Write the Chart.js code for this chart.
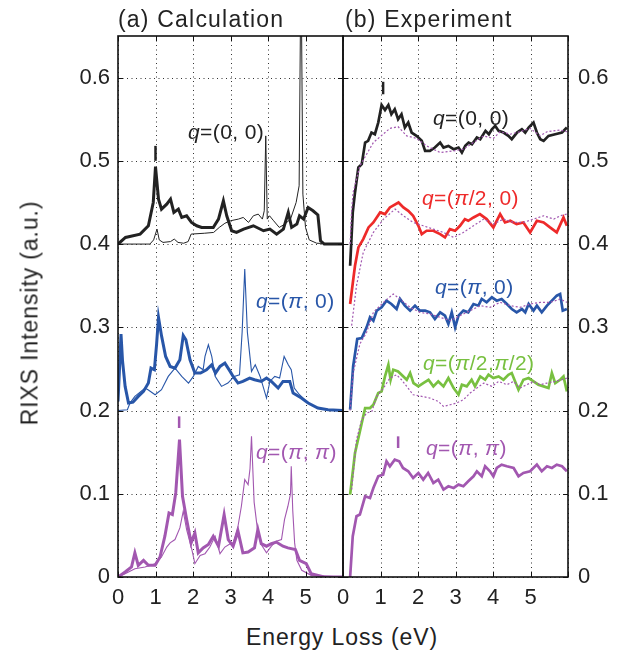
<!DOCTYPE html>
<html>
<head>
<meta charset="utf-8">
<script src="https://cdn.jsdelivr.net/npm/chart.js@4.4.1/dist/chart.umd.min.js"></script>
<style>
  body { margin: 0; background: #fff; font-family: "Liberation Sans", Arial, sans-serif; color: #222; }
  #wrap { position: relative; width: 625px; height: 652px; overflow: hidden; }
  .cv { position: absolute; top: 0; }
  .txt { position: absolute; white-space: nowrap; line-height: 1; }
  .tit { font-size: 23px; letter-spacing: 1.2px; }
  .lbl { font-size: 21px; letter-spacing: 0.4px; }
</style>
</head>
<body>
<div id="wrap">
  <div class="cv" style="left:0;width:344px;height:610px"><canvas id="calc"></canvas></div>
  <div class="cv" style="left:330px;width:295px;height:610px"><canvas id="expt"></canvas></div>

  <div class="txt tit" style="left:118px;top:8px">(a) Calculation</div>
  <div class="txt tit" style="left:345px;top:8px">(b) Experiment</div>
  <div class="txt tit" style="left:30px;top:313px;letter-spacing:0.9px;transform:translate(-50%,-50%) rotate(-90deg)">RIXS Intensity (a.u.)</div>
  <div class="txt tit" style="left:342px;top:637px;letter-spacing:0.9px;transform:translate(-50%,-50%)">Energy Loss (eV)</div>

  <div class="txt lbl" style="left:188px;top:121px;color:#222"><i>q</i>=(0, 0)</div>
  <div class="txt lbl" style="left:256px;top:290px;color:#2856a8"><i>q</i>=(<i>π</i>, 0)</div>
  <div class="txt lbl" style="left:256px;top:441px;color:#a257b0"><i>q</i>=(<i>π</i>, <i>π</i>)</div>
  <div class="txt lbl" style="left:433px;top:107px;color:#222"><i>q</i>=(0, 0)</div>
  <div class="txt lbl" style="left:422px;top:187px;color:#ee2a2a"><i>q</i>=(<i>π</i>/2, 0)</div>
  <div class="txt lbl" style="left:435px;top:276px;color:#2856a8"><i>q</i>=(<i>π</i>, 0)</div>
  <div class="txt lbl" style="left:423px;top:352px;color:#78c040"><i>q</i>=(<i>π</i>/2,<i>π</i>/2)</div>
  <div class="txt lbl" style="left:426px;top:437px;color:#a257b0"><i>q</i>=(<i>π</i>, <i>π</i>)</div>
</div>

<script>
// eixos
const xTickValues = [0, 1, 2, 3, 4, 5, 6];
const yTickValues = [0, 0.1, 0.2, 0.3, 0.4, 0.5, 0.6];

// (a) calculo: pares [energia, intensidade]
const calcQ00Thick = [[0,0.4],[0.2,0.408],[0.59,0.412],[0.81,0.422],[0.94,0.45],[1.0,0.493],[1.08,0.454],[1.16,0.442],[1.3,0.448],[1.4,0.454],[1.49,0.438],[1.61,0.442],[1.7,0.432],[1.83,0.434],[1.96,0.426],[2.1,0.422],[2.23,0.42],[2.36,0.42],[2.54,0.42],[2.68,0.43],[2.81,0.452],[2.9,0.434],[3.03,0.416],[3.16,0.414],[3.35,0.418],[3.61,0.422],[3.88,0.416],[4.05,0.418],[4.23,0.412],[4.41,0.418],[4.54,0.438],[4.63,0.42],[4.77,0.424],[4.84,0.434],[4.95,0.43],[5.07,0.444],[5.2,0.44],[5.33,0.435],[5.4,0.404],[5.5,0.4],[6,0.4]];
const calcQ00Thin = [[0,0.4],[0.85,0.4],[0.95,0.405],[1.04,0.418],[1.1,0.405],[1.2,0.402],[1.4,0.403],[1.5,0.406],[1.6,0.402],[1.75,0.401],[1.87,0.403],[1.95,0.412],[2.3,0.413],[2.55,0.414],[2.7,0.42],[2.85,0.425],[3.0,0.428],[3.21,0.43],[3.34,0.432],[3.48,0.426],[3.61,0.434],[3.74,0.436],[3.85,0.43],[3.9,0.44],[3.94,0.53],[3.98,0.43],[4.04,0.434],[4.15,0.428],[4.3,0.42],[4.45,0.424],[4.6,0.43],[4.75,0.45],[4.83,0.47],[4.88,0.75],[4.93,0.46],[5.0,0.42],[5.1,0.405],[5.3,0.401],[6,0.4]];
const calcQp0Thick = [[0,0.211],[0.04,0.25],[0.08,0.292],[0.12,0.26],[0.19,0.229],[0.28,0.209],[0.4,0.21],[0.54,0.217],[0.68,0.223],[0.81,0.233],[0.88,0.251],[0.97,0.249],[1.03,0.28],[1.08,0.312],[1.16,0.29],[1.27,0.265],[1.39,0.253],[1.52,0.251],[1.65,0.261],[1.74,0.29],[1.81,0.285],[1.92,0.261],[2.05,0.245],[2.2,0.245],[2.36,0.249],[2.5,0.255],[2.6,0.245],[2.72,0.253],[2.85,0.257],[2.99,0.247],[3.07,0.241],[3.2,0.233],[3.33,0.235],[3.51,0.239],[3.64,0.237],[3.82,0.235],[3.96,0.239],[4.09,0.235],[4.27,0.227],[4.4,0.235],[4.58,0.235],[4.67,0.221],[4.89,0.215],[5.07,0.209],[5.33,0.203],[5.6,0.201],[6,0.2]];
const calcQp0Thin = [[0,0.2],[0.25,0.201],[0.32,0.209],[0.45,0.217],[0.72,0.227],[0.8,0.225],[0.99,0.219],[1.16,0.225],[1.34,0.241],[1.52,0.251],[1.7,0.241],[1.88,0.233],[2.01,0.241],[2.14,0.253],[2.27,0.249],[2.32,0.265],[2.41,0.279],[2.5,0.265],[2.59,0.241],[2.76,0.229],[2.93,0.233],[3.1,0.241],[3.24,0.243],[3.31,0.294],[3.38,0.37],[3.45,0.294],[3.56,0.247],[3.66,0.255],[3.79,0.241],[3.96,0.215],[4.05,0.235],[4.18,0.241],[4.31,0.239],[4.43,0.265],[4.54,0.255],[4.62,0.249],[4.7,0.227],[4.84,0.219],[5.07,0.209],[5.33,0.203],[5.6,0.201],[6,0.2]];
const calcQppThick = [[0,0],[0.19,0.006],[0.36,0.012],[0.45,0.029],[0.54,0.014],[0.68,0.02],[0.81,0.014],[0.99,0.014],[1.12,0.024],[1.25,0.049],[1.36,0.077],[1.45,0.075],[1.54,0.101],[1.64,0.165],[1.72,0.097],[1.83,0.069],[1.95,0.041],[2.05,0.053],[2.14,0.029],[2.27,0.035],[2.41,0.039],[2.54,0.049],[2.68,0.037],[2.83,0.075],[2.94,0.045],[3.07,0.037],[3.2,0.055],[3.33,0.029],[3.47,0.03],[3.64,0.035],[3.73,0.057],[3.82,0.04],[3.96,0.037],[4.09,0.04],[4.22,0.042],[4.4,0.037],[4.53,0.035],[4.73,0.033],[4.84,0.02],[5.02,0.016],[5.15,0.004],[5.5,0],[6,0]];
const calcQppThin = [[0,0],[0.19,0.004],[0.45,0.01],[0.72,0.012],[0.99,0.016],[1.16,0.024],[1.3,0.036],[1.39,0.041],[1.52,0.045],[1.65,0.059],[1.74,0.079],[1.83,0.057],[1.97,0.033],[2.05,0.016],[2.19,0.026],[2.32,0.028],[2.45,0.036],[2.59,0.049],[2.72,0.028],[2.85,0.036],[2.99,0.04],[3.07,0.041],[3.2,0.061],[3.29,0.085],[3.38,0.117],[3.47,0.111],[3.52,0.13],[3.56,0.169],[3.63,0.09],[3.73,0.053],[3.82,0.039],[3.96,0.029],[4.09,0.037],[4.22,0.043],[4.36,0.045],[4.44,0.069],[4.53,0.085],[4.6,0.1],[4.62,0.133],[4.66,0.08],[4.71,0.041],[4.77,0.02],[4.9,0.008],[5.15,0.002],[6,0]];
const calcMarkQ00 = [[1.0,0.5],[1.0,0.518]];
const calcMarkQpp = [[1.63,0.179],[1.63,0.193]];

// (b) experimento
const expQ00 = [[0.19,0.374],[0.26,0.438],[0.32,0.462],[0.41,0.492],[0.5,0.496],[0.59,0.522],[0.67,0.524],[0.76,0.534],[0.85,0.532],[0.94,0.546],[1.03,0.567],[1.12,0.561],[1.21,0.567],[1.29,0.556],[1.38,0.562],[1.47,0.55],[1.56,0.556],[1.65,0.54],[1.74,0.546],[1.83,0.534],[1.96,0.53],[2.1,0.524],[2.19,0.512],[2.32,0.512],[2.45,0.516],[2.59,0.522],[2.68,0.516],[2.81,0.518],[2.95,0.514],[3.08,0.516],[3.17,0.51],[3.26,0.518],[3.35,0.522],[3.44,0.52],[3.57,0.528],[3.66,0.526],[3.8,0.536],[3.89,0.532],[3.97,0.538],[4.06,0.542],[4.15,0.536],[4.28,0.534],[4.41,0.53],[4.5,0.526],[4.64,0.534],[4.77,0.538],[4.86,0.534],[4.95,0.54],[5.08,0.546],[5.17,0.534],[5.26,0.526],[5.35,0.524],[5.48,0.53],[5.66,0.532],[5.84,0.534],[5.97,0.54]];
const expQ00Ref = [[0.19,0.4],[0.23,0.44],[0.27,0.462],[0.45,0.494],[0.81,0.522],[1.25,0.539],[1.47,0.541],[1.7,0.53],[1.96,0.527],[2.23,0.518],[2.59,0.51],[2.95,0.512],[3.21,0.514],[3.48,0.522],[3.75,0.53],[4.01,0.527],[4.19,0.535],[4.46,0.532],[4.72,0.535],[4.99,0.539],[5.26,0.53],[5.44,0.535],[5.79,0.537],[5.97,0.535]];
const expQh0 = [[0.19,0.328],[0.32,0.374],[0.41,0.396],[0.54,0.406],[0.68,0.42],[0.81,0.426],[0.99,0.438],[1.12,0.436],[1.25,0.444],[1.48,0.45],[1.61,0.444],[1.74,0.44],[1.87,0.434],[2.01,0.422],[2.1,0.412],[2.23,0.416],[2.41,0.416],[2.59,0.412],[2.72,0.408],[2.85,0.418],[2.99,0.416],[3.12,0.422],[3.25,0.43],[3.34,0.428],[3.48,0.432],[3.65,0.436],[3.83,0.43],[4.01,0.42],[4.19,0.436],[4.32,0.426],[4.46,0.428],[4.63,0.424],[4.81,0.426],[4.99,0.414],[5.17,0.428],[5.35,0.426],[5.52,0.42],[5.7,0.414],[5.88,0.432],[5.97,0.422]];
const expQh0Ref = [[0.23,0.302],[0.36,0.35],[0.54,0.39],[0.81,0.414],[1.08,0.43],[1.39,0.442],[1.61,0.434],[1.87,0.426],[2.14,0.422],[2.41,0.418],[2.68,0.414],[2.95,0.408],[3.21,0.414],[3.48,0.422],[3.75,0.43],[4.01,0.424],[4.28,0.43],[4.55,0.426],[4.81,0.426],[5.08,0.43],[5.35,0.434],[5.62,0.43],[5.8,0.434],[5.97,0.436]];
const expQp0 = [[0.19,0.201],[0.27,0.253],[0.38,0.286],[0.5,0.287],[0.63,0.3],[0.72,0.312],[0.81,0.308],[0.9,0.32],[1.03,0.324],[1.16,0.332],[1.29,0.328],[1.43,0.322],[1.52,0.334],[1.65,0.326],[1.79,0.32],[1.92,0.326],[2.05,0.32],[2.19,0.32],[2.32,0.318],[2.45,0.31],[2.59,0.318],[2.72,0.314],[2.81,0.304],[2.9,0.318],[2.99,0.3],[3.08,0.314],[3.21,0.32],[3.34,0.318],[3.48,0.328],[3.61,0.326],[3.7,0.334],[3.83,0.33],[3.97,0.336],[4.1,0.332],[4.23,0.334],[4.37,0.328],[4.5,0.322],[4.63,0.318],[4.77,0.322],[4.86,0.318],[4.95,0.328],[5.08,0.32],[5.17,0.326],[5.3,0.318],[5.44,0.326],[5.57,0.332],[5.7,0.338],[5.79,0.34],[5.86,0.32],[5.97,0.322]];
const expQp0Ref = [[0.19,0.2],[0.27,0.245],[0.45,0.28],[0.63,0.294],[0.81,0.318],[1.08,0.33],[1.34,0.34],[1.52,0.334],[1.79,0.324],[2.05,0.318],[2.32,0.316],[2.59,0.312],[2.86,0.308],[3.12,0.314],[3.39,0.32],[3.66,0.326],[3.92,0.324],[4.19,0.33],[4.46,0.326],[4.72,0.324],[4.99,0.328],[5.26,0.33],[5.53,0.33],[5.79,0.334],[5.97,0.33]];
const expQhh = [[0.19,0.099],[0.32,0.149],[0.45,0.175],[0.59,0.203],[0.72,0.203],[0.81,0.207],[0.94,0.221],[1.03,0.223],[1.12,0.241],[1.21,0.255],[1.27,0.237],[1.34,0.249],[1.47,0.247],[1.61,0.241],[1.7,0.237],[1.79,0.245],[1.88,0.233],[2.01,0.229],[2.14,0.233],[2.28,0.237],[2.41,0.229],[2.54,0.235],[2.68,0.229],[2.81,0.239],[2.95,0.227],[3.08,0.219],[3.17,0.231],[3.3,0.229],[3.43,0.237],[3.52,0.229],[3.66,0.241],[3.79,0.237],[3.88,0.243],[4.01,0.239],[4.15,0.241],[4.28,0.237],[4.41,0.243],[4.5,0.245],[4.59,0.235],[4.68,0.225],[4.81,0.237],[4.95,0.239],[5.08,0.235],[5.21,0.231],[5.35,0.229],[5.48,0.227],[5.57,0.245],[5.66,0.233],[5.79,0.237],[5.88,0.241],[5.97,0.223]];
const expQhhRef = [[0.23,0.105],[0.36,0.165],[0.5,0.189],[0.63,0.197],[0.77,0.199],[0.9,0.217],[1.08,0.227],[1.25,0.239],[1.43,0.243],[1.56,0.237],[1.7,0.229],[1.87,0.219],[2.1,0.217],[2.32,0.215],[2.54,0.211],[2.68,0.205],[2.86,0.207],[3.03,0.209],[3.21,0.213],[3.39,0.221],[3.57,0.227],[3.75,0.233],[3.97,0.229],[4.15,0.235],[4.37,0.231],[4.55,0.235],[4.72,0.227],[4.9,0.231],[5.08,0.235],[5.26,0.231],[5.44,0.233],[5.66,0.235],[5.84,0.237],[5.97,0.239]];
const expQpp = [[0.19,0],[0.26,0.049],[0.36,0.073],[0.45,0.075],[0.59,0.097],[0.72,0.095],[0.81,0.107],[0.94,0.121],[1.07,0.123],[1.16,0.139],[1.25,0.133],[1.38,0.141],[1.5,0.139],[1.6,0.131],[1.74,0.127],[1.87,0.119],[2.01,0.125],[2.14,0.117],[2.27,0.125],[2.41,0.113],[2.54,0.117],[2.68,0.105],[2.81,0.109],[2.95,0.107],[3.08,0.111],[3.21,0.109],[3.34,0.115],[3.48,0.121],[3.57,0.127],[3.7,0.121],[3.79,0.133],[3.92,0.127],[4.01,0.121],[4.1,0.131],[4.23,0.135],[4.37,0.133],[4.55,0.131],[4.68,0.121],[4.81,0.125],[4.99,0.127],[5.17,0.135],[5.3,0.127],[5.44,0.133],[5.57,0.131],[5.7,0.135],[5.84,0.133],[5.97,0.127]];
const expMarkQ00 = [[1.07,0.58],[1.07,0.595]];
const expMarkQpp = [[1.47,0.155],[1.47,0.169]];

const PRETO = '#222222', AZUL = '#2856a8', ROXO = '#a257b0', VERMELHO = '#ee2a2a', VERDE = '#78c040';
const FONTE = "'Liberation Sans', Arial, sans-serif";

function serie(pares, cor, largura, tracejado) {
    return {
        data: pares.map(p => ({ x: p[0], y: p[1] })),
        borderColor: cor,
        borderWidth: largura,
        borderDash: tracejado || [],
        pointRadius: 0,
        tension: 0,
        fill: false
    };
}

// grade pontilhada + moldura com tracinhos internos
const moldura = {
    id: 'moldura',
    beforeDatasetsDraw(chart) {
        const { ctx, chartArea: a, scales } = chart;
        ctx.save();
        ctx.strokeStyle = '#333';
        ctx.lineWidth = 1;
        ctx.setLineDash([1, 3.5]);
        scales.x.ticks.forEach(t => {
            const px = Math.round(scales.x.getPixelForValue(t.value)) + 0.5;
            ctx.beginPath(); ctx.moveTo(px, a.top); ctx.lineTo(px, a.bottom); ctx.stroke();
        });
        scales.y.ticks.forEach(t => {
            const py = Math.round(scales.y.getPixelForValue(t.value)) + 0.5;
            ctx.beginPath(); ctx.moveTo(a.left, py); ctx.lineTo(a.right, py); ctx.stroke();
        });
        ctx.restore();
    },
    afterDatasetsDraw(chart) {
        const { ctx, chartArea: a, scales } = chart;
        ctx.save();
        ctx.strokeStyle = '#111';
        ctx.lineWidth = 1.6;
        ctx.strokeRect(a.left, a.top, a.right - a.left, a.bottom - a.top);
        ctx.lineWidth = 1;
        const L = 5;
        scales.x.ticks.forEach(t => {
            const px = Math.round(scales.x.getPixelForValue(t.value)) + 0.5;
            ctx.beginPath();
            ctx.moveTo(px, a.bottom); ctx.lineTo(px, a.bottom - L);
            ctx.moveTo(px, a.top); ctx.lineTo(px, a.top + L);
            ctx.stroke();
        });
        scales.y.ticks.forEach(t => {
            const py = Math.round(scales.y.getPixelForValue(t.value)) + 0.5;
            ctx.beginPath();
            ctx.moveTo(a.left, py); ctx.lineTo(a.left + L, py);
            ctx.moveTo(a.right, py); ctx.lineTo(a.right - L, py);
            ctx.stroke();
        });
        ctx.restore();
    }
};

function opcoes(ladoY, padEsq, larguraY) {
    return {
        responsive: true,
        maintainAspectRatio: false,
        animation: false,
        events: [],
        layout: { padding: { top: 36, left: padEsq, right: ladoY === 'left' ? 1 : 0, bottom: 0 } },
        plugins: { legend: { display: false }, tooltip: { enabled: false } },
        scales: {
            x: {
                type: 'linear',
                min: 0, max: 6,
                afterBuildTicks: s => { s.ticks = xTickValues.map(v => ({ value: v })); },
                afterFit: s => { s.height = 33; s.paddingLeft = 0; s.paddingRight = 0; },
                grid: { display: false, drawTicks: false },
                border: { display: false },
                ticks: {
                    padding: 8,
                    color: '#222',
                    font: { family: FONTE, size: 22 },
                    maxRotation: 0,
                    autoSkip: false,
                    callback: v => (v === 6 ? '' : String(v))
                }
            },
            y: {
                position: ladoY,
                min: 0, max: 0.65,
                afterBuildTicks: s => { s.ticks = yTickValues.map(v => ({ value: v })); },
                afterFit: s => { s.width = larguraY; s.paddingTop = 0; s.paddingBottom = 0; },
                grid: { display: false, drawTicks: false },
                border: { display: false },
                ticks: {
                    padding: ladoY === 'left' ? 8 : 10,
                    color: '#222',
                    font: { family: FONTE, size: 22 },
                    autoSkip: false,
                    callback: v => (v === 0 ? '0' : v.toFixed(1))
                }
            }
        }
    };
}

new Chart(document.getElementById('calc'), {
    type: 'line',
    data: {
        datasets: [
            serie(calcQ00Thin, PRETO, 1),
            serie(calcQ00Thick, PRETO, 3),
            serie(calcQp0Thin, AZUL, 1.1),
            serie(calcQp0Thick, AZUL, 3),
            serie(calcQppThin, ROXO, 1.1),
            serie(calcQppThick, ROXO, 3),
            serie(calcMarkQ00, PRETO, 2.5),
            serie(calcMarkQpp, ROXO, 2.5)
        ]
    },
    options: opcoes('left', 0, 118),
    plugins: [moldura]
});

new Chart(document.getElementById('expt'), {
    type: 'line',
    data: {
        datasets: [
            serie(expQ00Ref, ROXO, 1.2, [2, 2]),
            serie(expQh0Ref, ROXO, 1.2, [2, 2]),
            serie(expQp0Ref, ROXO, 1.2, [2, 2]),
            serie(expQhhRef, ROXO, 1.2, [2, 2]),
            serie(expQ00, PRETO, 2.7),
            serie(expQh0, VERMELHO, 2.7),
            serie(expQp0, AZUL, 2.7),
            serie(expQhh, VERDE, 2.7),
            serie(expQpp, ROXO, 2.7),
            serie(expMarkQ00, PRETO, 2.5),
            serie(expMarkQpp, ROXO, 2.5)
        ]
    },
    options: opcoes('right', 13, 57),
    plugins: [moldura]
});
</script>
</body>
</html>
